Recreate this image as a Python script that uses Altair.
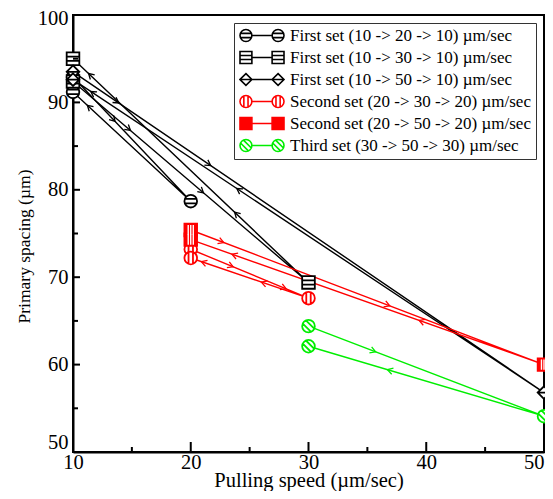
import math
import altair as alt
import pandas as pd

# ---------------- data ----------------
series = [
    "First set (10 -> 20 -> 10) µm/sec",
    "First set (10 -> 30 -> 10) µm/sec",
    "First set (10 -> 50 -> 10) µm/sec",
    "Second set (20 -> 30 -> 20) µm/sec",
    "Second set (20 -> 50 -> 20) µm/sec",
    "Third set (30 -> 50 -> 30) µm/sec",
]
speeds = [
    [10, 20, 10],
    [10, 30, 10],
    [10, 50, 10],
    [20, 30, 20],
    [20, 50, 20],
    [30, 50, 30],
]
spacing = [
    [92.9, 78.7, 91.2],
    [92.4, 69.4, 95.0],
    [93.5, 56.8, 92.6],
    [73.2, 67.6, 72.2],
    [75.4, 60.0, 74.3],
    [64.4, 54.1, 62.1],
]
# fraction along each segment (out, back) where a direction arrow sits
arrow_frac = [
    [[0.35], [0.87]],
    [[0.24, 0.55], [0.31, 0.93]],
    [[0.095, 0.29], [0.65, 0.96]],
    [[0.35, 0.80], [0.39, 0.90]],
    [[0.09, 0.56], [0.35, 0.88]],
    [[0.28], [0.66]],
]
x_ticks_major = [10, 20, 30, 40, 50]
x_ticks_minor = [15, 25, 35, 45]
y_ticks_major = [50, 60, 70, 80, 90, 100]
y_ticks_minor = [55, 65, 75, 85, 95]

# ---------------- styles ----------------
colors = ["black", "black", "black", "#ff0000", "#ff0000", "#00ee00"]
fills = ["white", "white", "white", "white", "#ff0000", "white"]
kinds = ["circle_h", "square_h", "diamond_h", "circle_v", "square_v", "circle_d"]
FONT = "Liberation Serif, Times New Roman, Times, serif"
W, H = 471, 437
K = 0.5523


def mpath(kind, cx, r):
    def P(x, y):
        return f"{cx + x * r:.3f},{y * r:.3f}"

    if kind.startswith("circle"):
        base = (f"M{P(-1, 0)}"
                f"C{P(-1, -K)} {P(-K, -1)} {P(0, -1)}"
                f"C{P(K, -1)} {P(1, -K)} {P(1, 0)}"
                f"C{P(1, K)} {P(K, 1)} {P(0, 1)}"
                f"C{P(-K, 1)} {P(-1, K)} {P(-1, 0)}Z")
    elif kind.startswith("square"):
        base = f"M{P(-1, -1)}L{P(1, -1)}L{P(1, 1)}L{P(-1, 1)}Z"
    else:
        base = f"M{P(0, -1)}L{P(1, 0)}L{P(0, 1)}L{P(-1, 0)}Z"
    lines = {
        "circle_h": [((-0.94, -0.35), (0.94, -0.35)), ((-0.94, 0.35), (0.94, 0.35))],
        "square_h": [((-1, -0.33), (1, -0.33)), ((-1, 0.33), (1, 0.33))],
        "diamond_h": [((-1, 0), (1, 0))],
        "circle_v": [((-0.35, -0.94), (-0.35, 0.94)), ((0.35, -0.94), (0.35, 0.94))],
        "square_v": [((-0.4, -1), (-0.4, 1)), ((0, -1), (0, 1)), ((0.4, -1), (0.4, 1))],
        "circle_d": [((-0.91, -0.41), (0.41, 0.91)), ((-0.41, -0.91), (0.91, 0.41))],
    }[kind]
    for (a, b) in lines:
        base += f"M{P(*a)}L{P(*b)}"
    return base


marker_paths = [mpath(k, 0, 1) for k in kinds]
legend_paths = [mpath(k, -0.73, 0.27) + mpath(k, 0.73, 0.27) + "M-0.46,0L0.46,0" for k in kinds]
stripe_path = "M-0.4,-0.8L-0.4,0.8M0,-0.8L0,0.8M0.4,-0.8L0.4,0.8"
chevron = "M-1,-0.75L0.3,0L-1,0.75"

# ---------------- tables ----------------
rows = []
for s, xs, ys in zip(series, speeds, spacing):
    for k, (x, y) in enumerate(zip(xs, ys)):
        rows.append(dict(series=s, x=x, y=y, step=k))
df = pd.DataFrame(rows)

arrow_rows = []
for s, xs, ys, fr in zip(series, speeds, spacing, arrow_frac):
    for seg in range(2):
        x1, y1, x2, y2 = xs[seg], ys[seg], xs[seg + 1], ys[seg + 1]
        dx = (x2 - x1) * W / 40.0
        dy = -(y2 - y1) * H / 50.0
        ang = (math.degrees(math.atan2(dy, dx)) + 360) % 360
        for f in fr[seg]:
            arrow_rows.append(dict(series=s, x=x1 + f * (x2 - x1), y=y1 + f * (y2 - y1), angle=ang))
adf = pd.DataFrame(arrow_rows)

xscale = alt.Scale(domain=[10, 50], nice=False, zero=False)
yscale = alt.Scale(domain=[50, 100], nice=False, zero=False)
xaxis = alt.Axis(values=x_ticks_major, format="d", title="Pulling speed (µm/sec)",
                 ticks=False, tickSize=0, labelPadding=0, grid=False, labelFlush=False,
                 labelAlign={"condition": {"test": "datum.value == 50", "value": "right"},
                             "value": "center"},
                 titleY=34, titleBaseline="alphabetic", titleFontSize=20.5)
yaxis = alt.Axis(values=y_ticks_major, format="d", title="Primary spacing (µm)",
                 ticks=False, tickSize=0, labelPadding=5, grid=False, labelFlush=False,
                 labelBaseline={"condition": [
                     {"test": "datum.value == 50", "value": "bottom"},
                     {"test": "datum.value == 100", "value": "top"}],
                     "value": "middle"},
                 labelOffset={"condition": {"test": "datum.value == 100", "value": -7}, "value": 0},
                 titleX=-44, titleY=231, titleBaseline="alphabetic", titleAngle=270,
                 titleFontSize=17.5)

X = alt.X("x:Q", scale=xscale, axis=xaxis)
Y = alt.Y("y:Q", scale=yscale, axis=yaxis)
stroke_enc = alt.Stroke("series:N", scale=alt.Scale(domain=series, range=colors), legend=None)

lines = alt.Chart(df).mark_line(strokeWidth=1.4).encode(
    x=X, y=Y, detail="series:N", order="step:Q", stroke=stroke_enc)

arrows = alt.Chart(adf).mark_point(shape=chevron, filled=False, size=70, strokeWidth=1.3, opacity=1).encode(
    x=X, y=Y, angle=alt.Angle("angle:Q", scale=None), stroke=stroke_enc)

points = alt.Chart(df).mark_point(filled=True, size=160, strokeWidth=1.8, opacity=1).encode(
    x=X, y=Y,
    shape=alt.Shape("series:N", scale=alt.Scale(domain=series, range=marker_paths), legend=None),
    stroke=stroke_enc,
    fill=alt.Fill("series:N", scale=alt.Scale(domain=series, range=fills), legend=None))

stripes = alt.Chart(df).transform_filter(
    alt.datum.series == series[4]).mark_point(shape=stripe_path, filled=False, size=160,
                                              strokeWidth=1.4, stroke="white", opacity=1).encode(x=X, y=Y)

leg = alt.Legend(title=None, orient="none", legendX=161, legendY=8, padding=5,
                 labelFont=FONT, labelFontSize=17, labelColor="black", labelLimit=400,
                 labelOffset=5, symbolSize=1936, symbolStrokeWidth=1.6, rowPadding=4,
                 clipHeight=15, strokeColor="#333333", fillColor="white")
legend_layer = alt.Chart(df).transform_filter("datum.step > 5").mark_point(
    filled=True, strokeWidth=1.6, opacity=1).encode(
    x=X, y=Y,
    shape=alt.Shape("series:N", scale=alt.Scale(domain=series, range=legend_paths), legend=leg),
    stroke=alt.Stroke("series:N", scale=alt.Scale(domain=series, range=colors), legend=leg),
    fill=alt.Fill("series:N", scale=alt.Scale(domain=series, range=fills), legend=leg))

tx_major = alt.Chart(pd.DataFrame({"x": x_ticks_major})).mark_rule(strokeWidth=2, color="black").encode(
    x=X, y=alt.value(H), y2=alt.value(H - 10))
tx_minor = alt.Chart(pd.DataFrame({"x": x_ticks_minor})).mark_rule(strokeWidth=2, color="black").encode(
    x=X, y=alt.value(H), y2=alt.value(H - 5))
ty_major = alt.Chart(pd.DataFrame({"y": y_ticks_major})).mark_rule(strokeWidth=2, color="black").encode(
    y=Y, x=alt.value(0), x2=alt.value(7))
ty_minor = alt.Chart(pd.DataFrame({"y": y_ticks_minor})).mark_rule(strokeWidth=2, color="black").encode(
    y=Y, x=alt.value(0), x2=alt.value(5))

chart = alt.layer(
    lines, arrows, points, stripes, legend_layer, tx_major, tx_minor, ty_major, ty_minor
).resolve_scale(
    shape="independent", stroke="independent", fill="independent"
).properties(
    width=W, height=H, autosize="none",
    padding={"left": 65, "top": 7, "right": 1, "bottom": 39},
).configure_view(
    stroke="black", strokeWidth=2
).configure_axis(
    domainColor="black", domainWidth=2, labelFont=FONT, labelFontSize=20.5, labelColor="black",
    titleFont=FONT, titleFontWeight="normal", titleColor="black",
)

chart.save("out.html", embed_options={"renderer": "svg", "actions": False})
